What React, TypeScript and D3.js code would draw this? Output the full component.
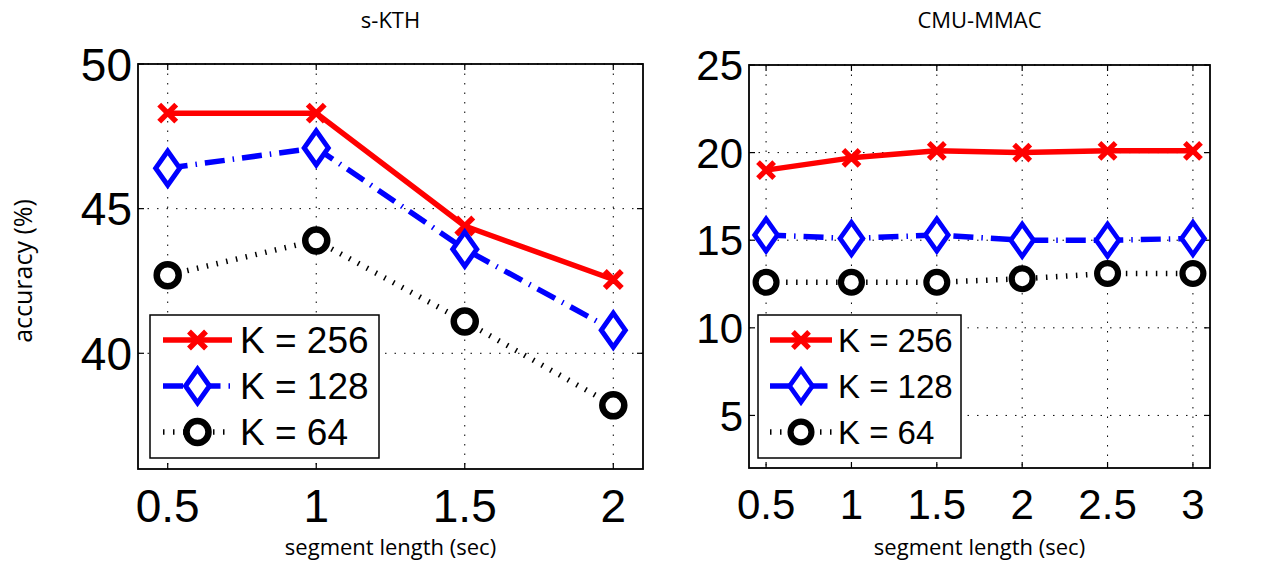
import * as d3 from 'd3';
import React, {useEffect, useRef} from 'react';

// x values (segment length in sec)
const segLenKTH = [0.5, 1, 1.5, 2];
const segLenCMU = [0.5, 1, 1.5, 2, 2.5, 3];

// s-KTH accuracies (%)
const kthK256 = [48.3, 48.3, 44.4, 42.55];
const kthK128 = [46.4, 47.1, 43.6, 40.8];
const kthK64 = [42.7, 43.9, 41.1, 38.2];

// CMU-MMAC accuracies (%)
const cmuK256 = [19.0, 19.7, 20.1, 20.0, 20.1, 20.1];
const cmuK128 = [15.3, 15.1, 15.3, 15.0, 15.0, 15.1];
const cmuK64 = [12.6, 12.6, 12.6, 12.8, 13.1, 13.1];

const seriesNames = ['K = 256', 'K = 128', 'K = 64'];
const kthYTicks = [40, 45, 50];
const cmuYTicks = [5, 10, 15, 20, 25];
const titles = ['s-KTH', 'CMU-MMAC'];

const tickFont = 'Liberation Sans, Arial, sans-serif';
const labelFont = 'Open Sans, sans-serif';

// line styles per series
const styles = [
    {color: '#ff0000', dash: null, marker: 'x'},
    {color: '#0000ff', dash: '20,8,1.5,8', marker: 'diamond'},
    {color: '#000000', dash: '1.5,8.5', marker: 'circle'},
];

function drawMarker(g, type, color, x, y, k) {
    if (type === 'x') {
        const s = 8.5 * k;
        g.append('path')
            .attr('d', `M${x - s},${y - s}L${x + s},${y + s}M${x - s},${y + s}L${x + s},${y - s}`)
            .attr('stroke', color)
            .attr('stroke-width', 5.5 * k)
            .attr('fill', 'none');
    } else if (type === 'diamond') {
        const w = 12 * k, h = 17 * k;
        g.append('path')
            .attr('d', `M${x},${y - h}L${x + w},${y}L${x},${y + h}L${x - w},${y}Z`)
            .attr('stroke', color)
            .attr('stroke-width', 5 * k)
            .attr('fill', 'white');
    } else {
        g.append('circle')
            .attr('cx', x)
            .attr('cy', y)
            .attr('r', 11 * k)
            .attr('stroke', color)
            .attr('stroke-width', 6.5 * k)
            .attr('fill', 'white');
    }
}

function plotPanel(svg, opts) {
    const {box, xs, series, xDomain, yDomain, yTicks, title, tickSize, legend, k} = opts;

    const x = d3.scaleLinear().domain(xDomain).range([box.x0, box.x1]);
    const y = d3.scaleLinear().domain(yDomain).range([box.y1, box.y0]);

    const g = svg.append('g');

    // dotted grid
    xs.forEach((v) => {
        g.append('line')
            .attr('x1', x(v)).attr('x2', x(v))
            .attr('y1', box.y0).attr('y2', box.y1)
            .attr('stroke', '#000')
            .attr('stroke-width', 1)
            .attr('stroke-dasharray', '1.5,8');
    });
    yTicks.forEach((v) => {
        g.append('line')
            .attr('x1', box.x0).attr('x2', box.x1)
            .attr('y1', y(v)).attr('y2', y(v))
            .attr('stroke', '#000')
            .attr('stroke-width', 1)
            .attr('stroke-dasharray', '1.5,8');
    });

    // ticks on all four sides, pointing inward
    xs.forEach((v) => {
        g.append('line').attr('x1', x(v)).attr('x2', x(v))
            .attr('y1', box.y1).attr('y2', box.y1 - 6)
            .attr('stroke', '#000').attr('stroke-width', 1.2);
        g.append('line').attr('x1', x(v)).attr('x2', x(v))
            .attr('y1', box.y0).attr('y2', box.y0 + 6)
            .attr('stroke', '#000').attr('stroke-width', 1.2);
    });
    yTicks.forEach((v) => {
        g.append('line').attr('x1', box.x0).attr('x2', box.x0 + 6)
            .attr('y1', y(v)).attr('y2', y(v))
            .attr('stroke', '#000').attr('stroke-width', 1.2);
        g.append('line').attr('x1', box.x1).attr('x2', box.x1 - 6)
            .attr('y1', y(v)).attr('y2', y(v))
            .attr('stroke', '#000').attr('stroke-width', 1.2);
    });

    // axes box
    g.append('rect')
        .attr('x', box.x0).attr('y', box.y0)
        .attr('width', box.x1 - box.x0).attr('height', box.y1 - box.y0)
        .attr('fill', 'none')
        .attr('stroke', '#000')
        .attr('stroke-width', 1.8);

    // tick labels
    g.selectAll('.ytl')
        .data(yTicks)
        .enter()
        .append('text')
        .attr('x', box.x0 - 6)
        .attr('y', (d) => y(d))
        .attr('dy', '0.36em')
        .attr('text-anchor', 'end')
        .style('font-family', tickFont)
        .style('font-size', `${tickSize}px`)
        .attr('fill', '#000')
        .text((d) => d);

    g.selectAll('.xtl')
        .data(xs)
        .enter()
        .append('text')
        .attr('x', (d) => x(d))
        .attr('y', box.y1 + 36)
        .attr('dy', '0.36em')
        .attr('text-anchor', 'middle')
        .style('font-family', tickFont)
        .style('font-size', `${tickSize}px`)
        .attr('fill', '#000')
        .text((d) => d);

    // title and x label
    g.append('text')
        .attr('x', (box.x0 + box.x1) / 2)
        .attr('y', 28)
        .attr('text-anchor', 'middle')
        .style('font-family', labelFont)
        .style('font-size', '22px')
        .attr('fill', '#000')
        .text(title);

    g.append('text')
        .attr('x', (box.x0 + box.x1) / 2)
        .attr('y', 555)
        .attr('text-anchor', 'middle')
        .style('font-family', labelFont)
        .style('font-size', '22px')
        .attr('fill', '#000')
        .text('segment length (sec)');

    // series lines then markers
    const line = d3.line().x((d) => x(d[0])).y((d) => y(d[1]));
    series.forEach((vals, i) => {
        const st = styles[i];
        const pts = xs.map((v, j) => [v, vals[j]]);
        g.append('path')
            .attr('d', line(pts))
            .attr('fill', 'none')
            .attr('stroke', st.color)
            .attr('stroke-width', 5.5)
            .attr('stroke-dasharray', st.dash)
            .attr('stroke-linejoin', 'round');
    });
    series.forEach((vals, i) => {
        const st = styles[i];
        xs.forEach((v, j) => drawMarker(g, st.marker, st.color, x(v), y(vals[j]), k));
    });

    // legend
    const lg = g.append('g');
    lg.append('rect')
        .attr('x', legend.x).attr('y', legend.y)
        .attr('width', legend.w).attr('height', legend.h)
        .attr('fill', 'white')
        .attr('stroke', '#000')
        .attr('stroke-width', 1.5);
    seriesNames.forEach((name, i) => {
        const st = styles[i];
        const cy = legend.y + 25 + i * 46;
        lg.append('line')
            .attr('x1', legend.x + legend.l0).attr('x2', legend.x + legend.l1)
            .attr('y1', cy).attr('y2', cy)
            .attr('stroke', st.color)
            .attr('stroke-width', 5.5)
            .attr('stroke-dasharray', st.dash);
        drawMarker(lg, st.marker, st.color, legend.x + (legend.l0 + legend.l1) / 2, cy, k);
        lg.append('text')
            .attr('x', legend.x + legend.tx)
            .attr('y', cy)
            .attr('dy', '0.36em')
            .style('font-family', tickFont)
            .style('font-size', `${legend.fs}px`)
            .attr('fill', '#000')
            .text(name);
    });
}

export default function App() {
    const ref = useRef(null);

    useEffect(() => {
        const el = d3.select(ref.current);
        el.selectAll('*').remove();
        const svg = el.append('svg')
            .attr('width', 1277)
            .attr('height', 562)
            .style('position', 'absolute')
            .style('left', '0px')
            .style('top', '0px')
            .style('background', 'white');

        plotPanel(svg, {
            box: {x0: 138, x1: 643, y0: 64, y1: 469},
            xs: segLenKTH,
            series: [kthK256, kthK128, kthK64],
            xDomain: [0.4, 2.1],
            yDomain: [36, 50],
            yTicks: kthYTicks,
            title: titles[0],
            tickSize: 46,
            k: 1,
            legend: {x: 150, y: 315, w: 229, h: 143, l0: 13, l1: 82, tx: 90, fs: 37},
        });

        plotPanel(svg, {
            box: {x0: 749, x1: 1210, y0: 65, y1: 468},
            xs: segLenCMU,
            series: [cmuK256, cmuK128, cmuK64],
            xDomain: [0.4, 3.1],
            yDomain: [2, 25],
            yTicks: cmuYTicks,
            title: titles[1],
            tickSize: 42,
            k: 0.95,
            legend: {x: 758, y: 315, w: 203, h: 143, l0: 12, l1: 74, tx: 80, fs: 33},
        });

        // shared y label
        svg.append('text')
            .attr('transform', 'translate(32,271) rotate(-90)')
            .attr('text-anchor', 'middle')
            .style('font-family', labelFont)
            .style('font-size', '25px')
            .attr('fill', '#000')
            .text('accuracy (%)');
    }, []);

    return <div ref={ref}></div>;
}
